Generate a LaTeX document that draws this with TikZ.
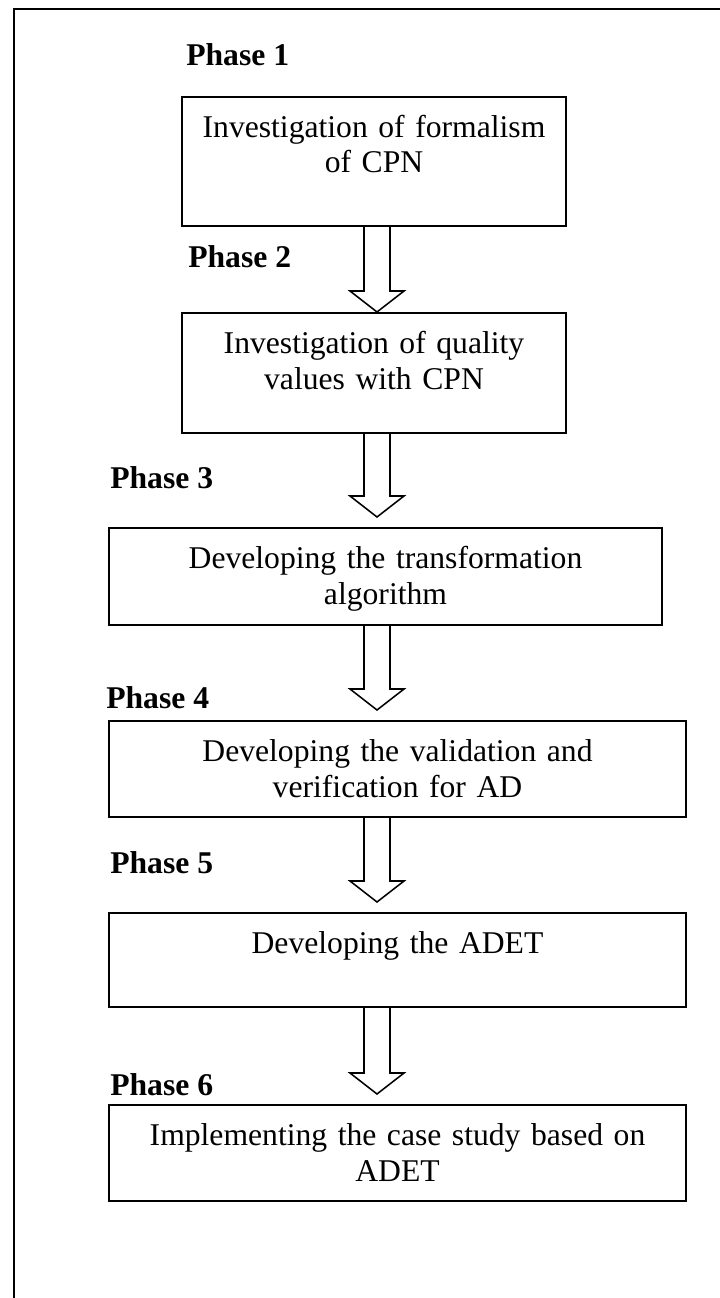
\documentclass[tikz,border=0pt]{standalone}
\usepackage{fontspec}
\setmainfont{Liberation Serif}
\usetikzlibrary{calc}

\newcommand{\boxfont}{\fontsize{22.5}{25.6}\selectfont}

\tikzset{
  stage/.style={draw, line width=1.4pt, align=center, anchor=north,
    inner xsep=0pt, inner ysep=0.25cm, text height=0.75cm, font=\boxfont},
  phase/.style={anchor=base west, inner sep=0pt, font=\boxfont\bfseries},
  hollow/.style={line width=1.1pt, line join=miter},
}

\begin{document}
\begin{tikzpicture}[x=0.025cm, y=-0.025cm]
    \useasboundingbox (0,0) rectangle (720,1298);

    % frame
    \draw[line width=1.45pt] (14,1298) -- (14,9) -- (720,9);

    % stages
    \node[stage, text width=9.6cm, text depth=1.975cm] (formal) at (374,96)
        {Investigation of formalism\\of CPN};
    \node[stage, text width=9.6cm, text depth=1.75cm] (quality) at (374,312)
        {Investigation of quality\\values with CPN};
    \node[stage, text width=13.825cm, text depth=1.175cm] (algo) at (385.5,527)
        {Developing the transformation\\algorithm};
    \node[stage, text width=14.425cm, text depth=1.15cm] (valid) at (397.5,720)
        {Developing the validation and\\verification for AD};
    \node[stage, text width=14.425cm, text depth=1.1cm] (adet) at (397.5,912)
        {Developing the ADET};
    \node[stage, text width=14.425cm, text depth=1.15cm] (cases) at (397.5,1104)
        {Implementing the case study based on\\ADET};

    % phase labels
    \node[phase] (p1) at (186,65) {Phase 1};
    \node[phase] (p2) at (188,267) {Phase 2};
    \node[phase] (p3) at (110,488) {Phase 3};
    \node[phase] (p4) at (106,708) {Phase 4};
    \node[phase] (p5) at (110,873) {Phase 5};
    \node[phase] (p6) at (110,1095) {Phase 6};

    % block arrows
    \coordinate (mid) at (377,0);
    \foreach \a/\b/\g in {formal/quality/0, quality/algo/10, algo/valid/10,
                          valid/adet/10, adet/cases/10} {
        \coordinate (s) at (\a.south -| mid);
        \coordinate (t) at ($(\b.north -| mid)+(0,-\g)$);
        \draw[hollow] ($(s)+(-13,0)$) -- ($(t)+(-13,-21)$) -- ($(t)+(-27,-21)$)
            -- (t) -- ($(t)+(27,-21)$) -- ($(t)+(13,-21)$) -- ($(s)+(13,0)$);
    }
\end{tikzpicture}
\end{document}
